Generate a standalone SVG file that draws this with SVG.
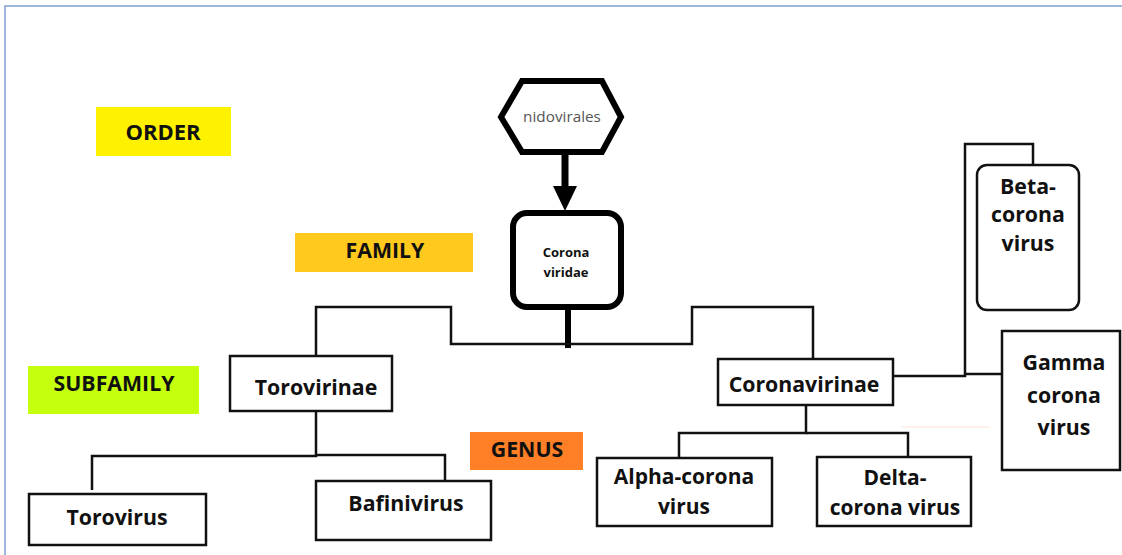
<svg xmlns="http://www.w3.org/2000/svg" width="1122" height="555" viewBox="0 0 1122 555">
<style>
.lbl{font-family:"Open Sans","Liberation Sans",sans-serif;font-weight:700;fill:#111;text-anchor:middle;font-size:21.3px}
.box{fill:#fff;stroke:#111;stroke-width:2.5}
.con{fill:none;stroke:#111;stroke-width:2.5;stroke-linejoin:miter}
</style>
<rect width="1122" height="555" fill="#fff"/>
<path d="M5 555 V6 H1122" fill="none" stroke="#7f9fd6" stroke-width="1.5"/>

<g id="level-order"><rect x="96" y="107" width="135" height="49" fill="#fff200"/><text class="lbl" x="163" y="140" style="font-size:22px">ORDER</text></g>
<g id="level-family"><rect x="295" y="233" width="178" height="39" fill="#ffc91d"/><text class="lbl" x="385" y="258">FAMILY</text></g>
<g id="level-subfamily"><rect x="28" y="366" width="171" height="48" fill="#c4ff0e"/><text class="lbl" x="114" y="391">SUBFAMILY</text></g>
<g id="level-genus"><rect x="470" y="432" width="113" height="38" fill="#ff7f27"/><text class="lbl" x="527" y="457">GENUS</text></g>

<g id="connectors">
  <line x1="565" y1="154" x2="565" y2="190" stroke="#000" stroke-width="7"/>
  <polygon points="553,186 577,186 565,211" fill="#000"/>
  <line x1="568" y1="306" x2="568" y2="348" stroke="#000" stroke-width="6"/>
  <path class="con" d="M316 356 V307 H451 V344 H692 V307 H813 V359"/>
  <path class="con" d="M893 376 H965 V144 H1033 V165"/>
  <path class="con" d="M965 374 H1003"/>
  <path class="con" d="M316 411 V456 H92 V490"/>
  <path class="con" d="M316 455 H445 V481"/>
  <path class="con" d="M806 405 V433 H679 V458"/>
  <path class="con" d="M806 433 H908 V457"/>
  <line x1="902" y1="427" x2="990" y2="427" stroke="#fbe3d2" stroke-width="1"/>
</g>

<g id="nidovirales"><polygon points="501,117 522,81 602,81 621,117 602,152 522,152" fill="#fff" stroke="#000" stroke-width="6" stroke-linejoin="miter"/><text x="562" y="122" font-family="'Open Sans','Liberation Sans',sans-serif" font-size="15.3" fill="#555" text-anchor="middle">nidovirales</text></g>
<g id="coronaviridae"><rect x="513" y="213" width="108" height="94" rx="14" fill="#fff" stroke="#000" stroke-width="6"/><text class="lbl" x="566" y="257" style="font-size:13px">Corona</text><text class="lbl" x="566" y="277" style="font-size:13px">viridae</text></g>

<g id="torovirinae"><rect class="box" x="230" y="356" width="162" height="55"/><text class="lbl" x="316" y="395">Torovirinae</text></g>
<g id="coronavirinae"><rect class="box" x="718" y="359" width="175" height="46"/><text class="lbl" x="804" y="392">Coronavirinae</text></g>
<g id="betacoronavirus"><rect class="box" x="977" y="165" width="102" height="145" rx="10"/><text class="lbl" x="1028" y="194">Beta-</text><text class="lbl" x="1028" y="222">corona</text><text class="lbl" x="1028" y="251">virus</text></g>
<g id="gammacoronavirus"><rect class="box" x="1002" y="331" width="118" height="139"/><text class="lbl" x="1064" y="370">Gamma</text><text class="lbl" x="1064" y="403">corona</text><text class="lbl" x="1064" y="435">virus</text></g>
<g id="torovirus"><rect class="box" x="29" y="494" width="177" height="51"/><text class="lbl" x="117" y="525">Torovirus</text></g>
<g id="bafinivirus"><rect class="box" x="316" y="481" width="175" height="59"/><text class="lbl" x="406" y="511">Bafinivirus</text></g>
<g id="alphacoronavirus"><rect class="box" x="597" y="458" width="175" height="68"/><text class="lbl" x="684" y="484" style="font-size:21px">Alpha-corona</text><text class="lbl" x="684" y="514" style="font-size:21px">virus</text></g>
<g id="deltacoronavirus"><rect class="box" x="817" y="457" width="154" height="69"/><text class="lbl" x="895" y="485" style="font-size:21px">Delta-</text><text class="lbl" x="895" y="515" style="font-size:21px">corona virus</text></g>
</svg>
